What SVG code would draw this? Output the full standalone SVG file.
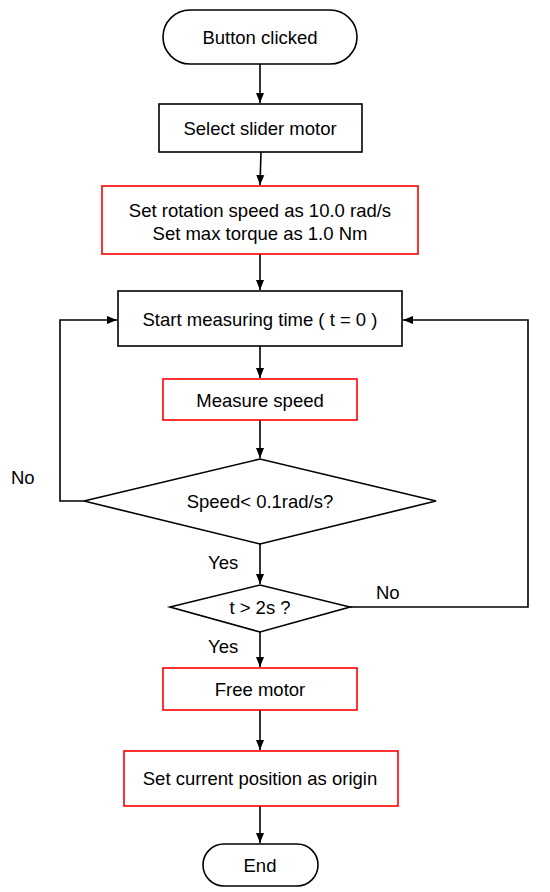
<svg xmlns="http://www.w3.org/2000/svg" width="550" height="892" viewBox="0 0 550 892">
<style>
.n{fill:#fff;stroke:#000;stroke-width:1.6}
.r{fill:#fff;stroke:#f00;stroke-width:1.6}
.t{font-family:"Liberation Sans",Arial,sans-serif;font-size:18.5px;fill:#000;text-anchor:middle}
.l{font-family:"Liberation Sans",Arial,sans-serif;font-size:18.5px;fill:#000}
.c{fill:none;stroke:#000;stroke-width:1.6}
</style>
<defs>
<marker id="ah" markerWidth="10" markerHeight="10" viewBox="0 0 10 10" refX="10" refY="5" orient="auto" markerUnits="userSpaceOnUse">
<path d="M0,1 L10,5 L0,9 z" fill="#000"/>
</marker>
</defs>
<rect width="550" height="892" fill="#fff"/>
<g id="connectors">
<path class="c" d="M260,64 V103" marker-end="url(#ah)"/>
<path class="c" d="M261,152 L260,185" marker-end="url(#ah)"/>
<path class="c" d="M260,254 V290" marker-end="url(#ah)"/>
<path class="c" d="M260,346 V378" marker-end="url(#ah)"/>
<path class="c" d="M260,420 V458" marker-end="url(#ah)"/>
<path class="c" d="M260,544 V584" marker-end="url(#ah)"/>
<path class="c" d="M260,632 V667" marker-end="url(#ah)"/>
<path class="c" d="M260,710 V750" marker-end="url(#ah)"/>
<path class="c" d="M260,806 V843" marker-end="url(#ah)"/>
<path class="c" d="M84,501 H60 V320 H117" marker-end="url(#ah)"/>
<path class="c" d="M350,607 H528 V320 H403" marker-end="url(#ah)"/>
<text class="l" x="11" y="484">No</text>
<text class="l" x="208" y="569">Yes</text>
<text class="l" x="376" y="599">No</text>
<text class="l" x="208" y="653">Yes</text>
</g>
<g id="start">
<rect class="n" x="163" y="10" width="194" height="54" rx="27" ry="27"/>
<text class="t" x="260" y="44">Button clicked</text>
</g>
<g id="select">
<rect class="n" x="159" y="104" width="203" height="48"/>
<text class="t" x="260" y="134.5">Select slider motor</text>
</g>
<g id="setspeed">
<rect class="r" x="102" y="186" width="316" height="68"/>
<text class="t" x="260" y="217">Set rotation speed as 10.0 rad/s</text>
<text class="t" x="260" y="240">Set max torque as 1.0 Nm</text>
</g>
<g id="starttime">
<rect class="n" x="118" y="291" width="284" height="55"/>
<text class="t" x="260" y="325.5">Start measuring time ( t = 0 )</text>
</g>
<g id="measure">
<rect class="r" x="163" y="379" width="194" height="41"/>
<text class="t" x="260" y="406.5">Measure speed</text>
</g>
<g id="speedcheck">
<polygon class="n" points="84,501 260,459 436,501 260,544"/>
<text class="t" x="260" y="507.5">Speed&lt; 0.1rad/s?</text>
</g>
<g id="timecheck">
<polygon class="n" points="170,607 260,585 350,607 260,632"/>
<text class="t" x="260" y="613.5">t &gt; 2s ?</text>
</g>
<g id="free">
<rect class="r" x="163" y="668" width="194" height="42"/>
<text class="t" x="260" y="695.5">Free motor</text>
</g>
<g id="origin">
<rect class="r" x="124" y="751" width="274" height="55"/>
<text class="t" x="260" y="785">Set current position as origin</text>
</g>
<g id="end">
<rect class="n" x="203" y="844" width="115" height="42" rx="21" ry="21"/>
<text class="t" x="260" y="871.5">End</text>
</g>
</svg>
